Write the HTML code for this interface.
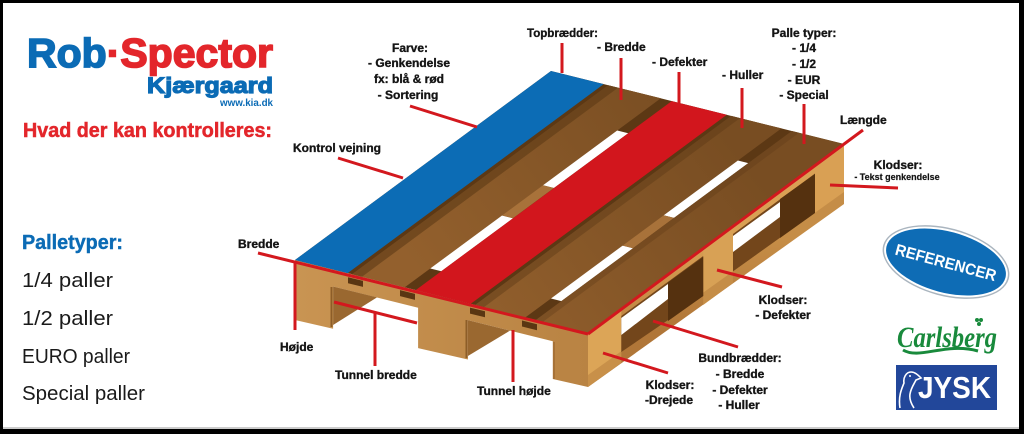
<!DOCTYPE html>
<html>
<head>
<meta charset="utf-8">
<style>
  html,body{margin:0;padding:0;background:#000;}
  body{width:1024px;height:434px;overflow:hidden;}
  svg{display:block;}
  .lb{font-family:"Liberation Sans",Arial,sans-serif;font-weight:bold;font-size:12px;fill:#141414;stroke:#141414;stroke-width:0.35;}
  .lbc{font-family:"Liberation Sans",Arial,sans-serif;font-weight:bold;font-size:12px;fill:#141414;stroke:#141414;stroke-width:0.35;text-anchor:middle;}
  .ln{stroke:#d3181e;stroke-width:3;fill:none;}
  .reg{font-family:"Liberation Sans",Arial,sans-serif;font-size:20px;fill:#1a1a1a;}
</style>
</head>
<body>
<svg width="1024" height="434" viewBox="0 0 1024 434" xmlns="http://www.w3.org/2000/svg">
  <defs>
    <linearGradient id="wood" gradientUnits="userSpaceOnUse" x1="440" y1="300" x2="700" y2="100">
      <stop offset="0" stop-color="#93602d"/>
      <stop offset="1" stop-color="#784d22"/>
    </linearGradient>
    <linearGradient id="front" gradientUnits="userSpaceOnUse" x1="295" y1="0" x2="588" y2="0">
      <stop offset="0" stop-color="#c99452"/>
      <stop offset="1" stop-color="#b98343"/>
    </linearGradient>
    <linearGradient id="side" gradientUnits="userSpaceOnUse" x1="0" y1="240" x2="0" y2="330">
      <stop offset="0" stop-color="#d9a054"/>
      <stop offset="1" stop-color="#bd8240"/>
    </linearGradient>
  </defs>

  <!-- white canvas inside black frame -->
  <rect x="3" y="3" width="1016" height="426" fill="#ffffff"/>
  <line x1="3" y1="428" x2="1019" y2="428" stroke="#9a9a9a" stroke-width="1"/>

  <!-- ===== LEFT PANEL ===== -->
  <text x="27" y="67" font-family="Liberation Sans, Arial, sans-serif" font-weight="bold" font-size="41" stroke-width="1.6" textLength="246" lengthAdjust="spacingAndGlyphs"><tspan fill="#0b6bb5" stroke="#0b6bb5">Rob</tspan><tspan fill="#e3262b" stroke="#e3262b">·Spector</tspan></text>
  <text x="147" y="93" font-family="Liberation Sans, Arial, sans-serif" font-weight="bold" font-size="22" fill="#0b6bb5" stroke="#0b6bb5" stroke-width="1.2" textLength="126" lengthAdjust="spacingAndGlyphs">Kjærgaard</text>
  <text x="220" y="106" font-family="Liberation Sans, Arial, sans-serif" font-weight="bold" font-size="10" fill="#0b6bb5" textLength="53" lengthAdjust="spacingAndGlyphs">www.kia.dk</text>
  <text x="23" y="137" font-family="Liberation Sans, Arial, sans-serif" font-weight="bold" font-size="20" fill="#e3262b" stroke="#e3262b" stroke-width="0.5" textLength="249" lengthAdjust="spacingAndGlyphs">Hvad der kan kontrolleres:</text>

  <text x="22" y="249" font-family="Liberation Sans, Arial, sans-serif" font-weight="bold" font-size="20" fill="#0b6bb5" stroke="#0b6bb5" stroke-width="0.4" textLength="101" lengthAdjust="spacingAndGlyphs">Palletyper:</text>
  <text class="reg" x="22" y="287" textLength="91" lengthAdjust="spacingAndGlyphs">1/4 paller</text>
  <text class="reg" x="22" y="325" textLength="91" lengthAdjust="spacingAndGlyphs">1/2 paller</text>
  <text class="reg" x="22" y="363" textLength="108" lengthAdjust="spacingAndGlyphs">EURO paller</text>
  <text class="reg" x="22" y="400" textLength="123" lengthAdjust="spacingAndGlyphs">Special paller</text>

  <!-- ===== PALLET ===== -->
  <!-- right side face -->
  <path d="M588,333 L844,144 L844,204 L588,387 Z" fill="url(#side)"/>
  <path d="M588,333 L621.3,308.4 L621.3,363 L588,387 Z" fill="#dca557"/>
  <path d="M703.2,248 L732.9,226 L732.9,283 L703.2,305 Z" fill="#d8a155"/>
  <path d="M588,375 L844,192 L844,204 L588,387 Z" fill="#8a5520" opacity="0.25"/>
  <!-- opening 1 -->
  <path d="M621.3,316 L703.2,256 L703.2,296 L621.3,352 Z" fill="#73461b"/>
  <path d="M621.3,318 L668,284 L668,299 L621.3,335 Z" fill="#ffffff"/>
  <path d="M668,282.5 L703.2,257 L703.2,296 L668,321 Z" fill="#55310f"/>
  <!-- opening 2 -->
  <path d="M733,234 L815,173.5 L815,212.7 L733,271.4 Z" fill="#73461b"/>
  <path d="M733,236 L780,202 L780,217 L733,252 Z" fill="#ffffff"/>
  <path d="M780,199 L815,174 L815,213 L780,238 Z" fill="#55310f"/>

  <!-- front face: band + 3 blocks -->
  <path d="M295,260 L588,333 L588,387 L552.8,379 L552.8,341.2 L467.9,320.1 L467.9,359.5 L418.1,348.1 L418.1,307.7 L333.1,286.5 L333.1,328.7 L295,320 Z" fill="url(#front)"/>
  <!-- inner tunnel faces -->
  <path d="M333.1,286.5 L377,297.4 L333.1,325 Z" fill="#9a6830"/>
  <path d="M467.9,320.1 L510,330.6 L467.9,356 Z" fill="#9a6830"/>
  <line x1="331.5" y1="287" x2="331.5" y2="327" stroke="#8d5d28" stroke-width="2"/>
  <line x1="466.5" y1="320" x2="466.5" y2="358" stroke="#8d5d28" stroke-width="2"/>
  <line x1="554" y1="342" x2="554" y2="379" stroke="#a06c33" stroke-width="1.5"/>
  <!-- notches -->
  <path d="M348,277.2 L363,280.9 L363,286.9 L348,283.2 Z" fill="#5a3612"/>
  <path d="M400,290.1 L415,293.9 L415,299.9 L400,296.1 Z" fill="#5a3612"/>
  <path d="M470,307.6 L485,311.3 L485,317.3 L470,313.6 Z" fill="#5a3612"/>
  <path d="M522,320.5 L537,324.3 L537,330.3 L522,326.5 Z" fill="#5a3612"/>

  <!-- top base (gaps) -->
  <path d="M295,260 L588,333 L844,144 L551,71 Z" fill="#5c3814"/>
  <!-- white slots -->
  <path d="M429.4,268.2 L441.3,271.2 L513,218.3 L501.1,215.3 Z" fill="#fff"/>
  <path d="M542,185 L553.9,188 L628.2,133.2 L616.3,130.2 Z" fill="#fff"/>
  <path d="M549.5,298.1 L561.4,301.1 L633.1,248.2 L621.2,245.2 Z" fill="#fff"/>
  <path d="M662.1,214.9 L674,217.9 L748.3,163.1 L736.4,160.1 Z" fill="#fff"/>
  <!-- cross boards seen in slots -->
  <path d="M501.1,215.3 L513,218.3 L553.9,188 L542,185 Z" fill="#a8723a"/>
  <path d="M621.2,245.2 L633.1,248.2 L674,217.9 L662.1,214.9 Z" fill="#a8723a"/>

  <!-- top boards -->
  <path d="M295,260 L347.7,273.1 L603.7,84.1 L551,71 Z" fill="#0c6cb5"/>
  <path d="M352.1,274.2 L404.8,287.3 L660.8,98.3 L608.1,85.2 Z" fill="url(#wood)"/>
  <path d="M352.1,274.2 L362,276.7 L618,87.7 L608.1,85.2 Z" fill="#5e3a16" opacity="0.6"/>
  <path d="M415.7,290.1 L470.8,303.8 L726.8,114.8 L671.7,101.1 Z" fill="#d2161d"/>
  <path d="M475.2,304.9 L525.4,317.4 L781.4,128.4 L731.2,115.9 Z" fill="url(#wood)"/>
  <path d="M475.2,304.9 L484,307.1 L740,118.1 L731.2,115.9 Z" fill="#5e3a16" opacity="0.45"/>
  <path d="M535.8,320 L588,333 L844,144 L791.8,131 Z" fill="url(#wood)"/>
  <path d="M535.8,320 L543,321.8 L799,132.8 L791.8,131 Z" fill="#5e3a16" opacity="0.35"/>

  <!-- ===== CONNECTOR LINES ===== -->
  <line class="ln" x1="410" y1="106" x2="477" y2="127"/>
  <line class="ln" x1="338" y1="158" x2="403" y2="178"/>
  <line class="ln" x1="562" y1="43" x2="562" y2="73"/>
  <line class="ln" x1="621" y1="58" x2="621" y2="100"/>
  <line class="ln" x1="679" y1="72" x2="679" y2="103"/>
  <line class="ln" x1="742" y1="88" x2="742" y2="128"/>
  <line class="ln" x1="804" y1="104" x2="804" y2="144"/>
  <line class="ln" x1="863" y1="130" x2="588" y2="334"/>
  <line class="ln" x1="258" y1="253" x2="588" y2="334"/>
  <line class="ln" x1="295" y1="262" x2="295" y2="330"/>
  <line class="ln" x1="334" y1="302" x2="417" y2="323"/>
  <line class="ln" x1="375" y1="312" x2="375" y2="366"/>
  <line class="ln" x1="513" y1="330" x2="513" y2="382"/>
  <line class="ln" x1="603" y1="353" x2="668" y2="373"/>
  <line class="ln" x1="653" y1="321" x2="738" y2="347"/>
  <line class="ln" x1="717" y1="270" x2="782" y2="287"/>
  <line class="ln" x1="830" y1="185" x2="898" y2="188"/>

  <!-- ===== LABELS ===== -->
  <text class="lbc" x="410" y="52">Farve:</text>
  <text class="lbc" x="409" y="67">- Genkendelse</text>
  <text class="lbc" x="409" y="83">fx: blå &amp; rød</text>
  <text class="lbc" x="408" y="99">- Sortering</text>

  <text class="lb" x="527" y="37" textLength="71" lengthAdjust="spacingAndGlyphs">Topbrædder:</text>
  <text class="lb" x="597" y="51">- Bredde</text>
  <text class="lb" x="652" y="66">- Defekter</text>
  <text class="lb" x="722" y="79">- Huller</text>

  <text class="lbc" x="804" y="37">Palle typer:</text>
  <text class="lbc" x="804" y="52">- 1/4</text>
  <text class="lbc" x="804" y="68">- 1/2</text>
  <text class="lbc" x="804" y="84">- EUR</text>
  <text class="lbc" x="804" y="99">- Special</text>

  <text class="lb" x="840" y="124">Længde</text>
  <text class="lbc" x="898" y="169">Klodser:</text>
  <text class="lbc" x="897" y="180" style="font-size:9px;stroke-width:0.2">- Tekst genkendelse</text>

  <text class="lb" x="293" y="152">Kontrol vejning</text>
  <text class="lb" x="238" y="248">Bredde</text>
  <text class="lb" x="280" y="351">Højde</text>
  <text class="lb" x="335" y="379">Tunnel bredde</text>
  <text class="lb" x="477" y="395">Tunnel højde</text>

  <text class="lbc" x="670" y="389">Klodser:</text>
  <text class="lbc" x="669" y="404">-Drejede</text>

  <text class="lbc" x="740" y="362">Bundbrædder:</text>
  <text class="lbc" x="740" y="378">- Bredde</text>
  <text class="lbc" x="740" y="394">- Defekter</text>
  <text class="lbc" x="739" y="409">- Huller</text>

  <text class="lbc" x="783" y="304">Klodser:</text>
  <text class="lbc" x="783" y="319">- Defekter</text>

  <!-- ===== RIGHT LOGOS ===== -->
  <g transform="rotate(15 946 262)">
    <ellipse cx="946" cy="262" rx="65" ry="34" fill="#aab5bf"/>
    <ellipse cx="946" cy="262" rx="63.5" ry="32.5" fill="#ffffff"/>
    <ellipse cx="946" cy="262" rx="61.5" ry="30.5" fill="#0e6cb5"/>
    <text x="946" y="268" text-anchor="middle" font-family="Liberation Sans, Arial, sans-serif" font-weight="bold" font-size="16" fill="#ffffff" textLength="104" lengthAdjust="spacingAndGlyphs">REFERENCER</text>
  </g>

  <!-- Carlsberg -->
  <text x="897" y="347" font-family="Liberation Serif, serif" font-style="italic" font-weight="bold" font-size="30" fill="#198a3c" textLength="100" lengthAdjust="spacingAndGlyphs">Carlsberg</text>
  <path d="M903,350 C920,360 945,342 978,351" stroke="#198a3c" stroke-width="3" fill="none"/>
  <circle cx="977" cy="320" r="2" fill="#198a3c"/>
  <circle cx="981" cy="320" r="2" fill="#198a3c"/>
  <circle cx="979" cy="324" r="2" fill="#198a3c"/>

  <!-- JYSK -->
  <rect x="896" y="365" width="101" height="45" fill="#22479a"/>
  <path d="M900,408 C898,396 902,388 904,383 C903,378 906,372 911,372 C915,372 918,375 921,378 L916,380 C914,384 911,388 910,394 C909,400 912,405 914,408" stroke="#ffffff" stroke-width="1.6" fill="none"/>
  <circle cx="910" cy="376" r="1" fill="#ffffff"/>
  <text x="918" y="398" font-family="Liberation Sans, Arial, sans-serif" font-weight="bold" font-size="31" fill="#ffffff" textLength="73" lengthAdjust="spacingAndGlyphs">JYSK</text>
</svg>
</body>
</html>
